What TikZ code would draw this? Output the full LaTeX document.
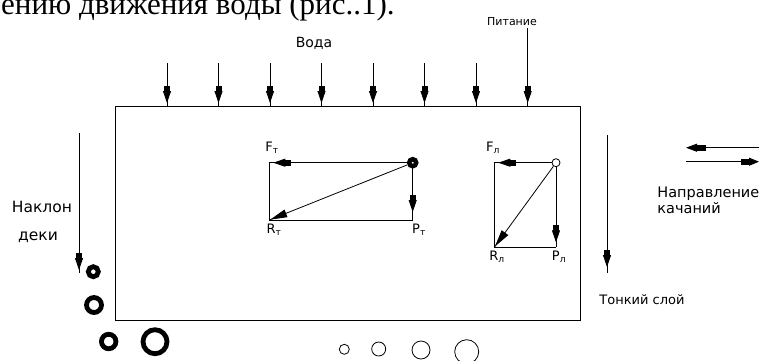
\documentclass[tikz,border=0pt]{standalone}
\usepackage{fontspec}
\setmainfont{DejaVu Sans}
\newfontfamily\textbodyfont{Liberation Serif}
\usetikzlibrary{arrows.meta, decorations.markings}
\tikzset{
  slimtip/.tip={Rectangle[length=5pt,width=6pt,sep=0pt]Triangle[length=12pt,width=8pt]},
  diagtip/.tip={Triangle[length=17pt,width=8pt]},
  headat/.style={postaction={decorate},
    decoration={markings, mark=at position -#1 with {\arrow{slimtip}}}},
  diagat/.style={postaction={decorate},
    decoration={markings, mark=at position -#1 with {\arrow{diagtip}}}},
  lbl/.style={inner sep=0pt, font=\fontsize{#1}{#1}\selectfont},
  ring/.style={draw, circle, inner sep=0pt, line width=4.8pt, minimum size=#1},
  bubble/.style={draw, circle, inner sep=0pt, line width=0.8pt, minimum size=#1},
}

\begin{document}
\begin{tikzpicture}[x=1pt, y=-1pt, line width=0.8pt]
  \clip (0,0) rectangle (759,360);
  % tail of the text line above the figure
  \node[anchor=base east, inner sep=0pt, font=\textbodyfont\fontsize{31}{34}\selectfont] (caption) at (395,14) {ению движения воды (рис..1).};

  % deck
  \node[draw, anchor=north west, inner sep=0pt, minimum width=465pt, minimum height=214pt] (deck) at (115,106) {};

  % water and feed from above
  \node[lbl=14] (water) at (314,43) {Вода};
  \node[lbl=11] (feed) at (512,22) {Питание};
  \foreach \x in {167,218.5,270,321.5,373,424.5,476}
    \draw[headat=3pt] (\x,63) -- (\x,63 |- deck.north);
  \draw[headat=3pt] (527.7,28) -- (527.7,28 |- deck.north);

  % heavy grain
  \node[draw, circle, inner sep=0pt, line width=4.5pt, minimum size=7pt] (heavy) at (412.7,162.7) {};
  \coordinate (FT) at (269.3,162.7);
  \coordinate (RT) at (269.3,220);
  \coordinate (PT) at (412.7,220);
  \draw (FT) -- (RT) -- (PT);
  \draw[headat=4pt] (heavy) -- (FT);
  \draw[headat=8pt] (heavy) -- (PT);
  \draw[diagat=1pt] (heavy) -- (RT);
  \node[lbl=13] (FTlbl) at (272,148) {F\textsubscript{т}};
  \node[lbl=13] (RTlbl) at (274,230) {R\textsubscript{т}};
  \node[lbl=13] (PTlbl) at (419,230) {P\textsubscript{т}};

  % light grain
  \node[draw, circle, inner sep=0pt, line width=0.8pt, minimum size=8pt] (light) at (556,162.7) {};
  \coordinate (FL) at (494.3,162.7);
  \coordinate (RL) at (494.3,247.3);
  \coordinate (PL) at (556,247.3);
  \draw (FL) -- (RL) -- (PL);
  \draw[headat=4pt] (light) -- (FL);
  \draw[headat=5pt] (light) -- (PL);
  \draw[diagat=1pt] (light) -- (RL);
  \node[lbl=13] (FLlbl) at (493,148) {F\textsubscript{л}};
  \node[lbl=13] (RLlbl) at (497,257) {R\textsubscript{л}};
  \node[lbl=13] (PLlbl) at (559,257) {P\textsubscript{л}};

  % thin layer
  \coordinate (thintop) at (607,135);
  \coordinate (thinend) at (607,273);
  \draw[headat=6pt] (thintop) -- (thinend);
  \node[lbl=13] (thin) at (642,300) {Тонкий слой};

  % deck slope
  \coordinate (tilttop) at (79,133);
  \coordinate (tiltend) at (79,273);
  \draw[headat=3pt] (tilttop) -- (tiltend);
  \node[lbl=15.5] (tilt) at (42,207) {Наклон};
  \node[lbl=15.5] (tiltb) at (38,237) {деки};

  % oscillation direction
  \coordinate (swingA) at (759,147.7);
  \coordinate (swingB) at (686,147.7);
  \coordinate (swingC) at (686,161.7);
  \coordinate (swingD) at (759,161.7);
  \draw[-{Rectangle[length=9pt,width=6pt,sep=0pt]Triangle[length=11pt,width=8pt]}] (swingA) -- (swingB);
  \draw[-{Rectangle[length=8pt,width=6pt,sep=0pt]Triangle[length=10pt,width=8pt]}] (swingC) -- (swingD);
  \node[inner sep=0pt, anchor=west, align=left, font=\fontsize{14.5}{16}\selectfont] (swing) at (657,200) {Направление\\качаний};

  % grains leaving the deck
  \foreach \x/\y/\d [count=\i] in {93.3/271.7/10pt, 94/305/15pt, 108.7/341.5/14.5pt, 155/341.7/24pt}
    \node[ring=\d] (r\i) at (\x,\y) {};
  \foreach \x/\y/\d [count=\i] in {344.3/349.3/10pt, 378.7/349/14pt, 421/350/18pt, 466.7/351.7/24pt}
    \node[bubble=\d] (b\i) at (\x,\y) {};
\end{tikzpicture}
\end{document}
